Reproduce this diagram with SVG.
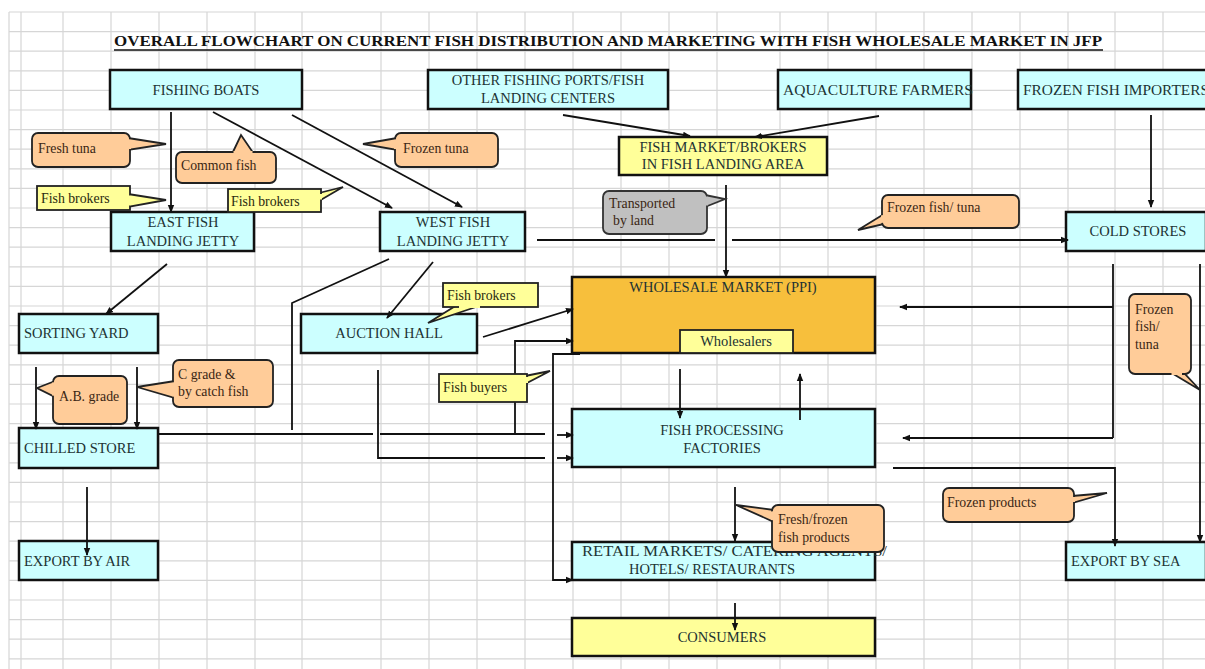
<svg xmlns="http://www.w3.org/2000/svg" width="1205" height="669" viewBox="0 0 1205 669">
<style>
.grid{stroke:#d6d6d6;stroke-width:1.2;fill:none}
.node{stroke:#111;stroke-width:2.5}
.cyan{fill:#CCFFFF}
.yel{fill:#FFFF99}
.ora{fill:#F7BF3C}
.t{font-family:"Liberation Serif","Times New Roman",serif;font-size:14.5px;fill:#1d3333}
.c{text-anchor:middle}
.ct{font-family:"Liberation Serif","Times New Roman",serif;font-size:13.8px;fill:#3a2614}
.cy{font-family:"Liberation Serif","Times New Roman",serif;font-size:13.8px;fill:#2a2a10}
.sal{fill:#FFCC99;stroke:#222;stroke-width:1.8}
.salf{fill:#FFCC99}
.ylc{fill:#FFFF99;stroke:#222;stroke-width:1.8}
.ylf{fill:#FFFF99}
.gry{fill:#C0C0C0;stroke:#333;stroke-width:1.8}
.gryf{fill:#C0C0C0}
.ln{stroke:#111;stroke-width:1.8;fill:none}
.ar{stroke:#111;stroke-width:1.8;fill:none;marker-end:url(#ah)}
</style>
<defs>
<marker id="ah" markerWidth="8" markerHeight="8" refX="7" refY="4" orient="auto" markerUnits="userSpaceOnUse">
<path d="M0,0.8 L8,4 L0,7.2 z" fill="#111"/>
</marker>
</defs>
<rect x="0" y="0" width="1205" height="669" fill="#fff"/>
<g id="grid">
<path class="grid" d="M9,12V669M21,12V669M63,12V669M111,12V669M159,12V669M207,12V669M255,12V669M302,12V669M381,12V669M429,12V669M477,12V669M525,12V669M573,12V669M621,12V669M669,12V669M717,12V669M780,12V669M828,12V669M876,12V669M924,12V669M972,12V669M1020,12V669M1068,12V669M1115,12V669M1163,12V669"/>
<path class="grid" d="M9,12H1205M9,31.6H1205M9,51.2H1205M9,70.8H1205M9,90.4H1205M9,110H1205M9,129.6H1205M9,149.2H1205M9,168.8H1205M9,188.4H1205M9,208H1205M9,227.6H1205M9,247.2H1205M9,266.8H1205M9,286.4H1205M9,306H1205M9,325.6H1205M9,345.2H1205M9,364.8H1205M9,384.4H1205M9,404H1205M9,423.6H1205M9,443.2H1205M9,462.8H1205M9,482.4H1205M9,502H1205M9,521.6H1205M9,541.2H1205M9,560.8H1205M9,580.4H1205M9,600H1205M9,619.6H1205M9,639.2H1205M9,658.8H1205"/>
</g>
<g id="title">
<text x="114" y="46" font-family="Liberation Serif, Times New Roman, serif" font-size="14.5" font-weight="bold" fill="#111" textLength="988" lengthAdjust="spacingAndGlyphs">OVERALL FLOWCHART ON CURRENT FISH DISTRIBUTION AND MARKETING WITH FISH WHOLESALE MARKET IN JFP</text>
<line x1="114" y1="50" x2="1103" y2="50" stroke="#111" stroke-width="1.3"/>
</g>
<g id="fishing-boats"><rect class="node cyan" x="110" y="70" width="192" height="39"/><text class="t c" x="206" y="95">FISHING BOATS</text></g>
<g id="other-ports"><rect class="node cyan" x="428" y="70" width="240" height="39"/><text class="t c" x="548" y="85">OTHER FISHING PORTS/FISH</text><text class="t c" x="548" y="103">LANDING CENTERS</text></g>
<g id="aquaculture"><rect class="node cyan" x="778" y="70" width="193" height="39"/><text class="t" x="783" y="95" textLength="190" lengthAdjust="spacingAndGlyphs">AQUACULTURE FARMERS</text></g>
<g id="importers"><rect class="node cyan" x="1018" y="70" width="200" height="39"/><text class="t" x="1023" y="95" textLength="186" lengthAdjust="spacingAndGlyphs">FROZEN FISH IMPORTERS</text></g>
<g id="fish-market"><rect class="node yel" x="619" y="137" width="208" height="38"/><text class="t c" x="723" y="152">FISH MARKET/BROKERS</text><text class="t c" x="723" y="169">IN FISH LANDING AREA</text></g>
<g id="east-jetty"><rect class="node cyan" x="111" y="212" width="143" height="39"/><text class="t c" x="183" y="227">EAST FISH</text><text class="t c" x="183" y="246">LANDING JETTY</text></g>
<g id="west-jetty"><rect class="node cyan" x="380" y="212" width="145" height="39"/><text class="t c" x="453" y="227">WEST FISH</text><text class="t c" x="453" y="246">LANDING JETTY</text></g>
<g id="cold-stores"><rect class="node cyan" x="1066" y="212" width="140" height="39"/><text class="t c" x="1138" y="236">COLD STORES</text></g>
<g id="sorting-yard"><rect class="node cyan" x="19" y="314" width="139" height="39"/><text class="t" x="24" y="338">SORTING YARD</text></g>
<g id="auction-hall"><rect class="node cyan" x="301" y="314" width="176" height="39"/><text class="t c" x="389" y="338">AUCTION HALL</text></g>
<g id="wholesale-market"><rect class="node ora" x="572" y="277" width="303" height="76"/><text class="t c" x="723" y="292">WHOLESALE MARKET (PPI)</text>
<rect x="680" y="330" width="113" height="23" fill="#FFFF99" stroke="#222" stroke-width="1.8"/><text class="t c" x="736" y="346" font-size="13.5">Wholesalers</text></g>
<g id="chilled-store"><rect class="node cyan" x="19" y="428" width="139" height="40"/><text class="t" x="24" y="453">CHILLED STORE</text></g>
<g id="processing"><rect class="node cyan" x="572" y="409" width="303" height="58"/><text class="t c" x="722" y="435">FISH PROCESSING</text><text class="t c" x="722" y="453">FACTORIES</text></g>
<g id="export-air"><rect class="node cyan" x="19" y="541" width="139" height="39"/><text class="t" x="24" y="566">EXPORT BY AIR</text></g>
<g id="retail"><rect class="node cyan" x="572" y="542" width="303" height="38"/><text class="t" x="582" y="556" textLength="305" lengthAdjust="spacingAndGlyphs">RETAIL MARKETS/ CATERING AGENTS/</text><text class="t c" x="712" y="574">HOTELS/ RESTAURANTS</text></g>
<g id="export-sea"><rect class="node cyan" x="1066" y="542" width="140" height="38"/><text class="t" x="1071" y="566">EXPORT BY SEA</text></g>
<g id="consumers"><rect class="node yel" x="572" y="618" width="303" height="38"/><text class="t c" x="722" y="642">CONSUMERS</text></g>
<g id="connectors">
<path class="ar" d="M171,112V212"/>
<path class="ar" d="M213,112L392,208"/>
<path class="ar" d="M292,115L462,207"/>
<path class="ar" d="M563,115L690,136"/>
<path class="ar" d="M879,116L755,137"/>
<path class="ar" d="M1151,115V207"/>
<path class="ar" d="M726,185V277"/>
<path class="ln" d="M537,240H715"/>
<path class="ar" d="M732,240H1068"/>
<path class="ar" d="M167,264L106,314"/>
<path class="ar" d="M433,262L387,318"/>
<path class="ln" d="M389,259L292,303V430"/>
<path class="ar" d="M483,337L573,309"/>
<path class="ar" d="M36,367V429"/>
<path class="ar" d="M137,367V429"/>
<path class="ar" d="M87,487V555"/>
<path class="ln" d="M158,434H373M380,434H545"/>
<path class="ar" d="M557,435H573"/>
<path class="ln" d="M378,370V458H545"/>
<path class="ar" d="M557,458H573"/>
<path class="ar" d="M515,434V341H573"/>
<path class="ar" d="M580,354H553V580H573"/>
<path class="ar" d="M680,369V418"/>
<path class="ar" d="M800,420V374"/>
<path class="ln" d="M1113,264V438"/>
<path class="ar" d="M1113,307H900"/>
<path class="ar" d="M1113,438H903"/>
<path class="ar" d="M1200,264V542"/>
<path class="ar" d="M893,468H1115V546"/>
<path class="ar" d="M735,487V541"/>
<path class="ar" d="M735,603V630"/>
</g>
<g id="callout-fresh-tuna"><polygon class="sal" points="128,138 166,144 128,150"/><rect class="sal" x="32" y="133" width="98" height="34" rx="6"/><polygon class="salf" points="126,139 131,139.5 131,149 126,149"/><text class="ct" x="38" y="153">Fresh tuna</text></g>
<g id="callout-common-fish"><polygon class="sal" points="232,154 241,135 254,154"/><rect class="sal" x="176" y="152" width="100" height="31" rx="6"/><polygon class="salf" points="233.5,151 252.5,151 252.5,155 233.5,155"/><text class="ct" x="181" y="170">Common fish</text></g>
<g id="callout-frozen-tuna"><polygon class="sal" points="397,138 363,144 397,150"/><rect class="sal" x="395" y="133" width="103" height="34" rx="6"/><polygon class="salf" points="394,139.5 399,139 399,149 394,149"/><text class="ct" x="403" y="153">Frozen tuna</text></g>
<g id="callout-brokers-left"><polygon class="ylc" points="128,194 166,200 128,207"/><rect class="ylc" x="37" y="186" width="93" height="24"/><polygon class="ylf" points="128,195.5 131,195.5 131,205.5 128,205.5"/><text class="cy" x="41" y="203">Fish brokers</text></g>
<g id="callout-brokers-mid"><polygon class="ylc" points="319,193 343,187 319,201"/><rect class="ylc" x="228" y="189" width="93" height="23"/><polygon class="ylf" points="319,194 322,194 322,199.5 319,199.5"/><text class="cy" x="231" y="206">Fish brokers</text></g>
<g id="callout-transported"><polygon class="gry" points="705,195 725,199 705,207"/><rect class="gry" x="603" y="191" width="104" height="43" rx="6"/><polygon class="gryf" points="704,196.5 708,196.5 708,205.5 704,205.5"/><text class="ct" x="609" y="208" fill="#333">Transported</text><text class="ct" x="613" y="225" fill="#333">by land</text></g>
<g id="callout-frozen-fish-tuna"><polygon class="sal" points="884,214 858,230 884,224"/><rect class="sal" x="882" y="195" width="137" height="33" rx="6"/><polygon class="salf" points="881,215.5 885,214.5 885,222.5 881,223"/><text class="ct" x="887" y="212">Frozen fish/ tuna</text></g>
<g id="callout-brokers-auction"><polygon class="ylc" points="457,305 428,323 482,305"/><rect class="ylc" x="443" y="283" width="95" height="24"/><polygon class="ylf" points="459,305 480,305 480,308 459,308"/><text class="cy" x="447" y="300">Fish brokers</text></g>
<g id="callout-fish-buyers"><polygon class="ylc" points="525,376 550,371 525,384"/><rect class="ylc" x="439" y="374" width="88" height="28"/><polygon class="ylf" points="525,377 528,377 528,383 525,383"/><text class="cy" x="443" y="392">Fish buyers</text></g>
<g id="callout-ab-grade"><polygon class="sal" points="55,381 37,388 55,397"/><rect class="sal" x="53" y="376" width="74" height="48" rx="6"/><polygon class="salf" points="52,382.5 56,382 56,396 52,395.5"/><text class="ct" x="59" y="401">A.B. grade</text></g>
<g id="callout-c-grade"><polygon class="sal" points="175,381 137,387 175,398"/><rect class="sal" x="173" y="360" width="100" height="47" rx="6"/><polygon class="salf" points="172,382.5 176,382 176,397 172,396.5"/><text class="ct" x="178" y="379">C grade &amp;</text><text class="ct" x="178" y="396">by catch fish</text></g>
<g id="callout-frozen-fish-tuna-v"><polygon class="sal" points="1170,372 1200,390 1183,372"/><rect class="sal" x="1129" y="294" width="62" height="80" rx="6"/><polygon class="salf" points="1171.5,371 1182,371 1182,375 1171.5,375"/><text class="ct" x="1135" y="314">Frozen</text><text class="ct" x="1135" y="331">fish/</text><text class="ct" x="1135" y="349">tuna</text></g>
<g id="callout-fresh-frozen"><polygon class="sal" points="774,510 736,505 774,522"/><rect class="sal" x="772" y="505" width="112" height="47" rx="6"/><polygon class="salf" points="771,511.5 775,511 775,520.5 771,520"/><text class="ct" x="778" y="524">Fresh/frozen</text><text class="ct" x="778" y="542">fish products</text></g>
<g id="callout-frozen-products"><polygon class="sal" points="1072,496 1107,493 1072,503"/><rect class="sal" x="943" y="488" width="131" height="34" rx="6"/><polygon class="salf" points="1072,497 1075,497 1075,502 1072,502"/><text class="ct" x="947" y="507">Frozen products</text></g>
</svg>
